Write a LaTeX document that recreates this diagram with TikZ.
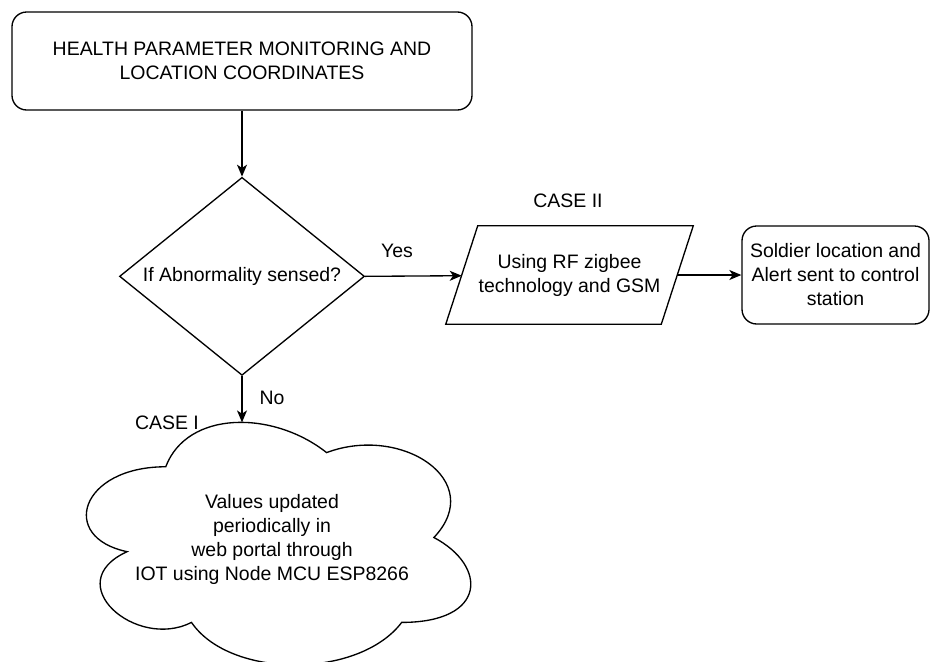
\documentclass[tikz,border=0pt]{standalone}
\usepackage{fontspec}
\setmainfont{Liberation Sans}
\usetikzlibrary{positioning,shapes.geometric,arrows.meta}

\begin{document}
\begin{tikzpicture}[x=0.75pt,y=-0.75pt,
	every node/.style={font=\fontsize{14.6}{18}\selectfont, align=center},
	block/.style={draw, line width=1pt, rounded corners=11pt, inner sep=0pt},
	decision/.style={draw, line width=1pt, diamond, aspect=1.24, inner sep=0pt,
		minimum width=183.75pt, minimum height=148.5pt},
	iobox/.style={inner sep=0pt, minimum width=161.25pt, minimum height=73.5pt},
	flow/.style={line width=1pt, -{Stealth[length=9pt, width=7.5pt, inset=2.5pt]}}]
	\useasboundingbox (0,0) rectangle (930,661);

	\node[block, minimum width=345pt, minimum height=73.5pt] (start) at (242,61)
		{HEALTH PARAMETER MONITORING AND\\LOCATION COORDINATES};
	\node[decision, below=49.5pt of start] (dia) {If Abnormality sensed?};
	\node[iobox] (rf) at (569.5,275) {Using RF zigbee\\technology and GSM};
	\draw[line width=1pt] ([xshift=-12pt]rf.south west) -- ([xshift=-12pt]rf.south east)
		-- ([xshift=12pt]rf.north east) -- ([xshift=12pt]rf.north west) -- cycle;
	\node[block, minimum width=140.25pt, minimum height=73.5pt] (alert) at (835.5,275)
		{Soldier location and\\Alert sent to control\\station};

	\node (yes) at (397,251) {Yes};
	\node (no) at (272,398) {No};
	\node (case2) at (568,201) {CASE II};
	\node (case1) at (167,423) {CASE I};

	\draw[line width=1pt] (165.75,466.75) .. controls (79.95,466.75) and (58.5,537.5) .. (127.14,551.65)
		.. controls (58.5,582.78) and (135.72,650.7) .. (191.49,622.4)
		.. controls (230.1,679) and (358.8,679) .. (401.7,622.4)
		.. controls (487.5,622.4) and (487.5,565.8) .. (433.9,537.5)
		.. controls (487.5,480.9) and (401.7,424.3) .. (326.6,452.6)
		.. controls (273,410.15) and (187.2,410.15) .. (165.75,466.75) -- cycle;
	\coordinate (cloudtop) at (242,422.4);
	\node (upd) at (272,539) {Values updated\\periodically in\\web portal through\\IOT using Node MCU ESP8266};

	\draw[flow] (start) -- (dia);
	\draw[flow] (dia.east) -- (rf);
	\draw[flow] (rf) -- (alert);
	\draw[flow] (dia.south) -- (cloudtop);
\end{tikzpicture}
\end{document}
